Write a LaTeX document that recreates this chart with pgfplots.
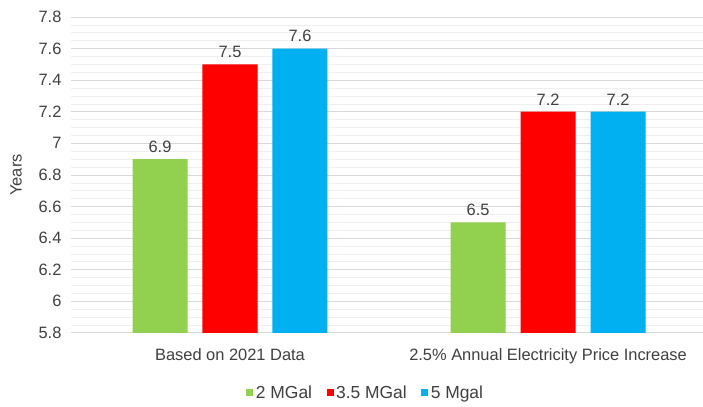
\documentclass[border=0pt]{standalone}
\usepackage{pgfplots}
\pgfplotsset{compat=1.18}
\usepackage{fontspec}
\setmainfont{Liberation Sans}

\definecolor{barGreen}{HTML}{92D050}
\definecolor{barRed}{HTML}{FF0000}
\definecolor{barBlue}{HTML}{00B0F0}
\definecolor{txt}{HTML}{404040}
\definecolor{gridMajor}{HTML}{D9D9D9}
\definecolor{gridMinor}{HTML}{EFEFEF}

\begin{document}
\begin{tikzpicture}[font=\fontsize{16.5}{20}\selectfont, text=txt]
\begin{axis}[
  scale only axis,
  width=632bp, height=316bp,
  ybar, bar width=0.173,
  xmin=-0.5, xmax=1.486,
  ymin=5.8, ymax=7.8,
  ytick={5.8,6,6.2,6.4,6.6,6.8,7,7.2,7.4,7.6,7.8},
  minor y tick num=3,
  ymajorgrids, yminorgrids,
  major grid style={draw=gridMajor, line width=0.7pt},
  minor grid style={draw=gridMinor, line width=0.6pt},
  axis line style={draw=none},
  major tick style={draw=none}, minor tick style={draw=none},
  xtick={0,1},
  xticklabels={Based on 2021 Data, 2.5\% Annual Electricity Price Increase},
  xticklabel style={yshift=-8bp},
  yticklabel style={xshift=-6bp},
  /pgf/number format/assume math mode=true,
  ylabel={Years},
  ylabel style={at={(axis description cs:-0.087,0.5)}, anchor=center},
  nodes near coords,
  every node near coord/.append style={yshift=3bp, text=txt},
  legend columns=3,
  legend style={draw=none, at={(axis description cs:0.456,-0.19)}, anchor=center,
    font=\fontsize{17.5}{21}\selectfont,
    /tikz/every odd column/.append style={column sep=1bp},
    nodes={inner sep=1.5bp}},
  % swatch with some room on its left to space the entries apart
  legend image code/.code={\path (-13bp,0bp);
    \fill[#1] (0bp,-3.5bp) rectangle (7bp,3.5bp);},
  clip=false,
]
\addplot[fill=barGreen, draw=none, bar shift=-0.22] coordinates {(0,6.9) (1,6.5)};
\addplot[fill=barRed, draw=none, bar shift=0] coordinates {(0,7.5) (1,7.2)};
\addplot[fill=barBlue, draw=none, bar shift=0.22] coordinates {(0,7.6) (1,7.2)};
\legend{2 MGal, 3.5 MGal, 5 Mgal}
\path (rel axis cs:0,0) ++(-71bp,-74bp) rectangle ++(703bp,407bp);
\end{axis}
\end{tikzpicture}
\end{document}
